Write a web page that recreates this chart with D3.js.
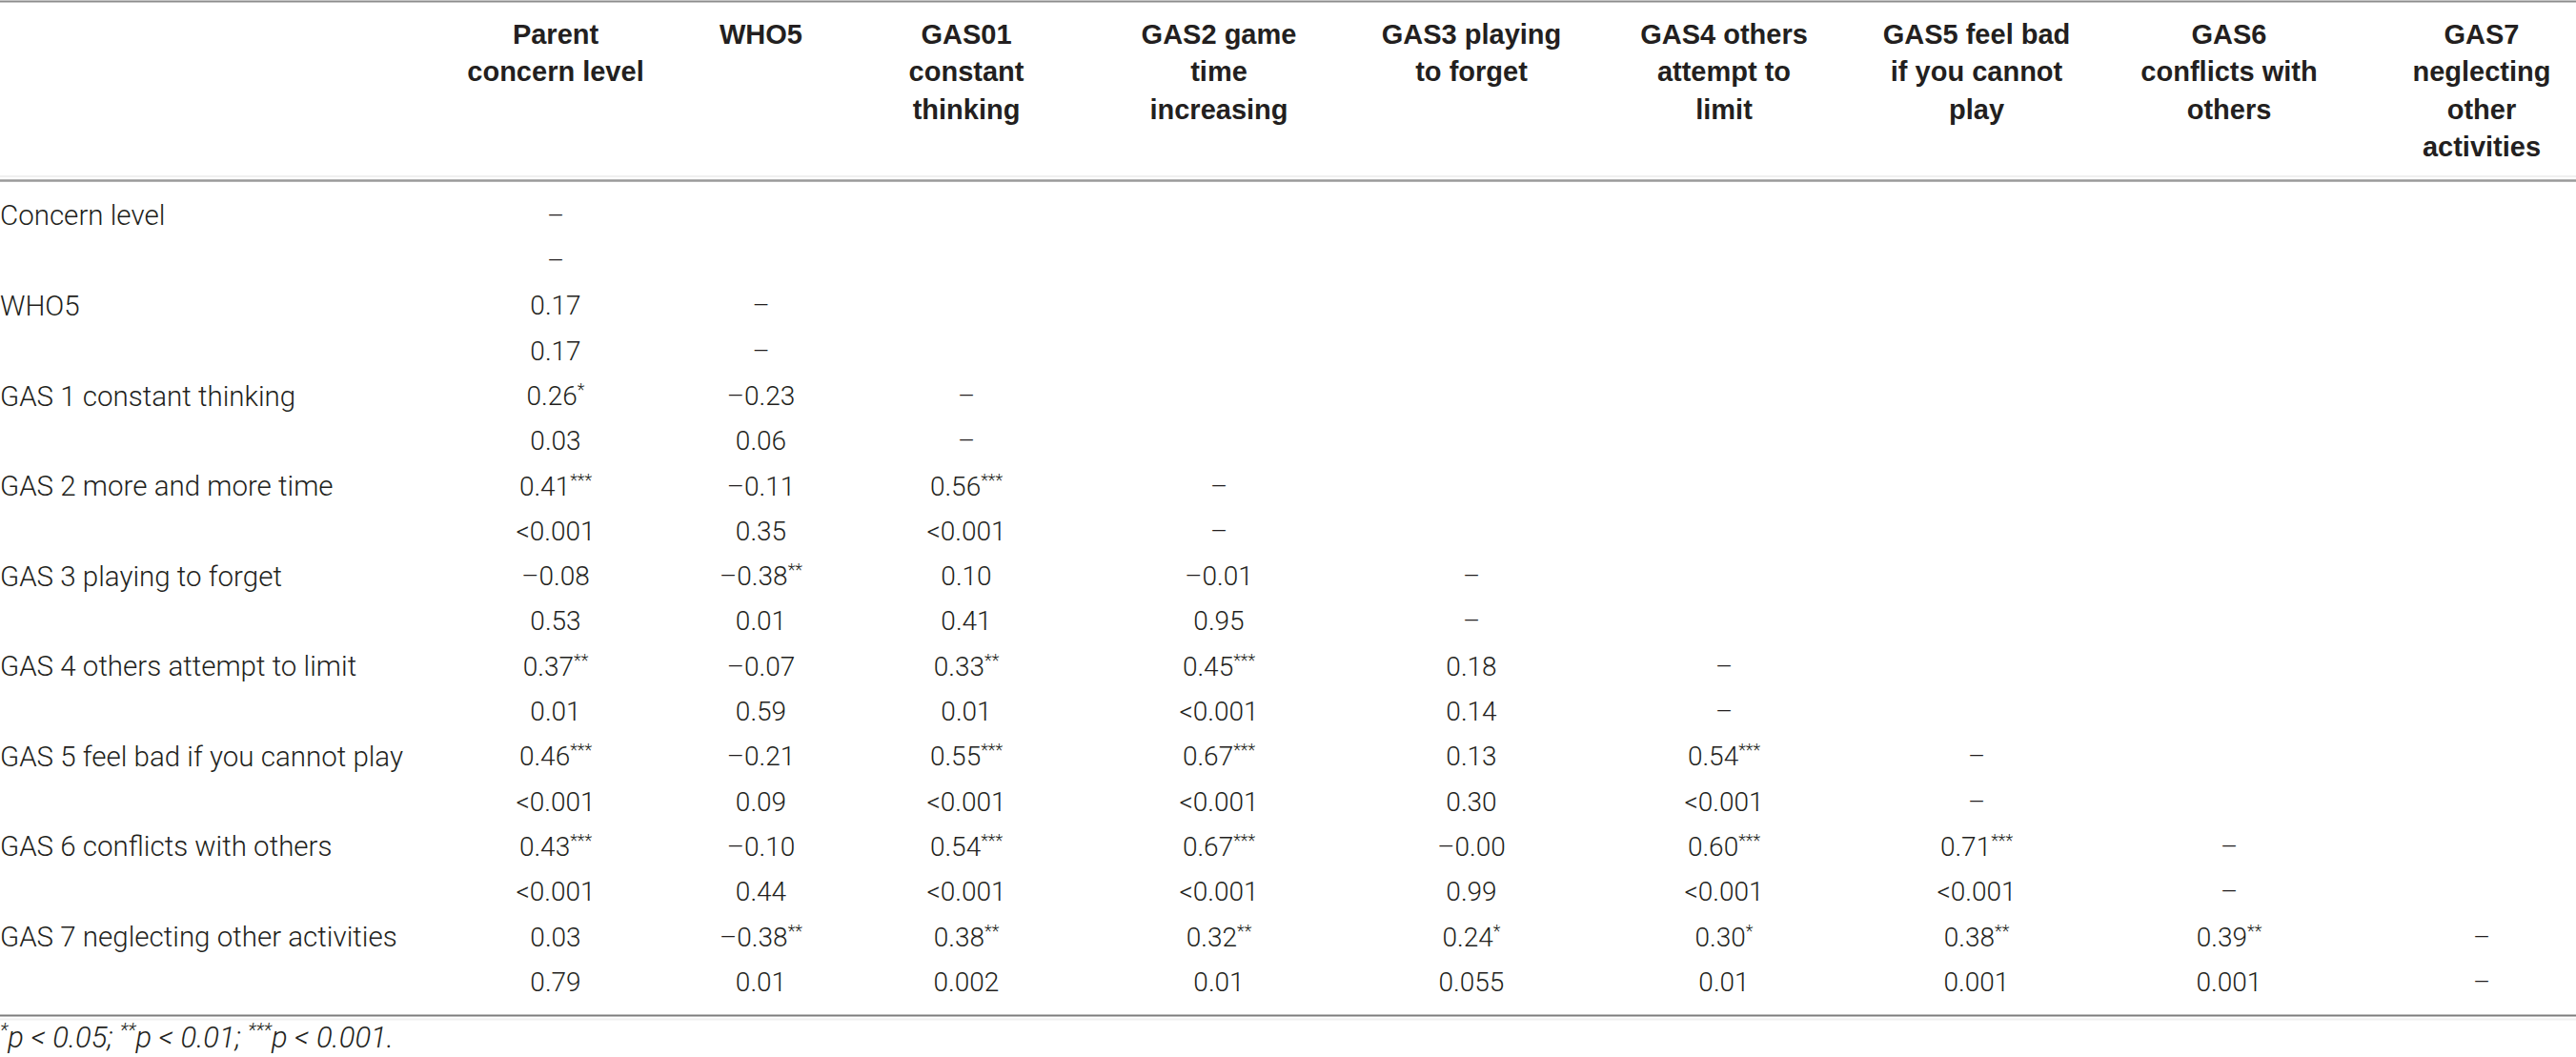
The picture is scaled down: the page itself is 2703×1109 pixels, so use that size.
<!DOCTYPE html>
<html>
<head>
<meta charset="utf-8">
<script src="https://cdn.jsdelivr.net/npm/d3@7"></script>
<style>
  body { margin: 0; background: #fff; }
  svg text { fill: #231f20; }
  .head { font-family: "Liberation Sans", Arial, sans-serif; font-weight: bold; font-size: 29px; }
  .cell { font-family: Roboto, "Liberation Sans", sans-serif; font-weight: 300; font-size: 28px; }
  .label { font-size: 29.5px; }
  .note { font-family: Roboto, "Liberation Sans", sans-serif; font-weight: 300; font-style: italic; font-size: 31px; }
</style>
</head>
<body>
<svg id="chart"></svg>
<script>
// variables (rows) and header labels (columns)
let rowLabels = ["Concern level", "WHO5", "GAS 1 constant thinking", "GAS 2 more and more time",
  "GAS 3 playing to forget", "GAS 4 others attempt to limit", "GAS 5 feel bad if you cannot play",
  "GAS 6 conflicts with others", "GAS 7 neglecting other activities"]

let colLabels = [["Parent", "concern level"], ["WHO5"], ["GAS01", "constant", "thinking"],
  ["GAS2 game", "time", "increasing"], ["GAS3 playing", "to forget"], ["GAS4 others", "attempt to", "limit"],
  ["GAS5 feel bad", "if you cannot", "play"], ["GAS6", "conflicts with", "others"],
  ["GAS7", "neglecting", "other", "activities"]]

// correlation coefficients, lower triangle (null = diagonal)
let rValues = [
  [null],
  [0.17, null],
  [0.26, -0.23, null],
  [0.41, -0.11, 0.56, null],
  [-0.08, -0.38, 0.10, -0.01, null],
  [0.37, -0.07, 0.33, 0.45, 0.18, null],
  [0.46, -0.21, 0.55, 0.67, 0.13, 0.54, null],
  [0.43, -0.10, 0.54, 0.67, -0.0, 0.60, 0.71, null],
  [0.03, -0.38, 0.38, 0.32, 0.24, 0.30, 0.38, 0.39, null]
]

// number of significance stars for each coefficient
let stars = [
  [0],
  [0, 0],
  [1, 0, 0],
  [3, 0, 3, 0],
  [0, 2, 0, 0, 0],
  [2, 0, 2, 3, 0, 0],
  [3, 0, 3, 3, 0, 3, 0],
  [3, 0, 3, 3, 0, 3, 3, 0],
  [0, 2, 2, 2, 1, 1, 2, 2, 0]
]

// p values as printed
let pValues = [
  [null],
  ["0.17", null],
  ["0.03", "0.06", null],
  ["<0.001", "0.35", "<0.001", null],
  ["0.53", "0.01", "0.41", "0.95", null],
  ["0.01", "0.59", "0.01", "<0.001", "0.14", null],
  ["<0.001", "0.09", "<0.001", "<0.001", "0.30", "<0.001", null],
  ["<0.001", "0.44", "<0.001", "<0.001", "0.99", "<0.001", "<0.001", null],
  ["0.79", "0.01", "0.002", "0.01", "0.055", "0.01", "0.001", "0.001", null]
]

let footNote = [["*", "p < 0.05; "], ["**", "p < 0.01; "], ["***", "p < 0.001."]]

let width = 2703, height = 1109

let svg = d3.select('#chart').attr('width', width).attr('height', height)

let fmt = d3.format('.2f')
let showR = (v) => {
  if (v === null) return '–'
  //keep the sign of -0.00
  return (v < 0 || Object.is(v, -0)) ? '–' + fmt(Math.abs(v)) : fmt(v)
}

// column centres: first two columns are narrower
let x = d3.scaleLinear().domain([0, 2, 8]).range([583, 1014, 2604])
let y = d3.scaleLinear().domain([0, 17]).range([226, 1030])
let yHead = d3.scaleLinear().domain([0, 1]).range([36, 75.3])

// rules
let rules = [{y: 1.5, c: '#8c8c8c', w: 2}, {y: 185, c: '#f0f0f0', w: 2}, {y: 189.5, c: '#9a9a9a', w: 2.5},
  {y: 1065.5, c: '#7c7c7c', w: 2}, {y: 1069.5, c: '#f0f0f0', w: 2}]
svg.selectAll('line.rule')
   .data(rules)
   .enter()
   .append('line')
   .attr('class', 'rule')
   .attr('x1', 0).attr('x2', width)
   .attr('y1', (d) => d.y).attr('y2', (d) => d.y)
   .attr('stroke', (d) => d.c)
   .attr('stroke-width', (d) => d.w)

// header
let head = svg.selectAll('g.head')
   .data(colLabels)
   .enter()
   .append('g')
   .attr('class', 'head')
   .attr('transform', (d, i) => 'translate(' + x(i) + ',0)')

head.selectAll('text')
    .data((d) => d)
    .enter()
    .append('text')
    .attr('text-anchor', 'middle')
    .attr('y', (d, j) => yHead(j))
    .attr('dy', '0.35em')
    .text((d) => d)

// body cells: for each variable a row of r and a row of p
let cells = []
rowLabels.forEach((label, i) => {
  rValues[i].forEach((v, j) => {
    cells.push({row: 2 * i, col: j, text: showR(v), stars: stars[i][j]})
    cells.push({row: 2 * i + 1, col: j, text: pValues[i][j] === null ? '–' : pValues[i][j], stars: 0})
  })
})

svg.selectAll('text.label')
   .data(rowLabels)
   .enter()
   .append('text')
   .attr('class', 'cell label')
   .attr('x', 0)
   .attr('y', (d, i) => y(2 * i))
   .attr('dy', '0.35em')
   .text((d) => d)

let cellText = svg.selectAll('text.val')
   .data(cells)
   .enter()
   .append('text')
   .attr('class', 'cell val')
   .attr('text-anchor', 'middle')
   .attr('x', (d) => x(d.col))
   .attr('y', (d) => y(d.row))
   .attr('dy', '0.35em')

cellText.append('tspan').text((d) => d.text)
cellText.filter((d) => d.stars > 0)
   .append('tspan')
   .attr('font-size', '18px')
   .attr('dy', '-0.55em')
   .text((d) => '*'.repeat(d.stars))

// footnote, stars raised by a fixed amount so the baseline doesn't drift
let note = svg.append('text')
   .attr('class', 'note')
   .attr('x', 0)
   .attr('y', 1099)

footNote.forEach((part) => {
  note.append('tspan').attr('font-size', '20px').attr('dy', -11).text(part[0])
  note.append('tspan').attr('dy', 11).text(part[1])
})
</script>
</body>
</html>
